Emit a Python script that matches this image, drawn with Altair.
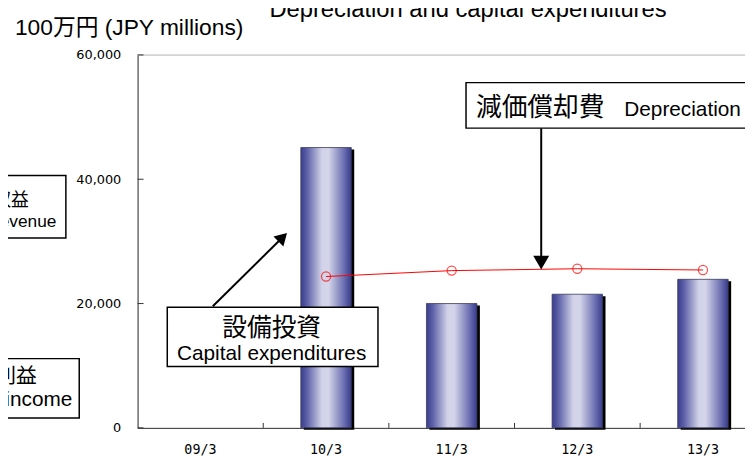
import altair as alt
import pandas as pd

# ---- data ----
periods = ["09/3", "10/3", "11/3", "12/3", "13/3"]
capex = [None, 45100, 20000, 21500, 23900]          # 設備投資 Capital expenditures
depreciation = [None, 24350, 25300, 25600, 25400]   # 減価償却費 Depreciation
y_ticks = [0, 20000, 40000, 60000]

title_text = "Depreciation and capital expenditures"
unit_text = "100万円 (JPY millions)"

df = pd.DataFrame({"period": periods, "capex": capex, "dep": depreciation})
tick_df = pd.DataFrame({"period": periods[1:]})
ytick_df = pd.DataFrame({"v": y_ticks})
one = pd.DataFrame({"k": [0]})

LAT = '"Liberation Sans", Arial, "Noto Sans CJK JP", sans-serif'
CJK = '"Noto Sans CJK JP", sans-serif'

PW, PH = 614, 377
xscale = alt.Scale(domain=periods, range=[0, 635], paddingInner=0, paddingOuter=0)
yscale = alt.Scale(domain=[0, 60000], nice=False)

x_axis = alt.Axis(title=None, labelAngle=0, ticks=False, domainColor="#333",
                  labelFont='"DejaVu Sans Mono", monospace', labelFontSize=13.5,
                  labelPadding=15, labelColor="#000", grid=False)
y_axis = alt.Axis(title=None, values=y_ticks, labelExpr="format(datum.value, ',')",
                  ticks=False, grid=False,
                  domainColor="#333", labelFont='"DejaVu Sans", sans-serif',
                  labelFontSize=13, labelPadding=17, labelColor="#000")

X = alt.X("period:N", scale=xscale, sort=periods, axis=x_axis)

base = alt.Chart(df)

top_rule = alt.Chart(one).mark_rule(color="#c4c4c4", strokeWidth=1).encode(
    y=alt.value(0), x=alt.value(0), x2=alt.value(PW))

shadow = base.mark_bar(size=51, color="#000", xOffset=3, yOffset=2).encode(
    x=X, y=alt.Y("capex:Q", scale=yscale, axis=y_axis),
)

grad = alt.LinearGradient(
    gradient="linear", x1=0, x2=1, y1=0, y2=0,
    stops=[
        alt.GradientStop(offset=0, color="#393d8e"),
        alt.GradientStop(offset=0.12, color="#5b5fa7"),
        alt.GradientStop(offset=0.42, color="#d2d3e9"),
        alt.GradientStop(offset=0.55, color="#d4d5ea"),
        alt.GradientStop(offset=0.85, color="#6d70b2"),
        alt.GradientStop(offset=1, color="#383b8b"),
    ],
)
bars = base.mark_bar(size=51, fill=grad, stroke="#3a3a5a", strokeWidth=0.8).encode(
    x=X, y=alt.Y("capex:Q", scale=yscale, axis=y_axis),
)

line = base.mark_line(color="#ff0000", strokeWidth=1).encode(
    x=X, y=alt.Y("dep:Q", scale=yscale, axis=y_axis),
)
points = base.mark_point(shape="circle", size=85, stroke="#ff0000", filled=False,
                         strokeWidth=1.2).encode(
    x=X, y=alt.Y("dep:Q", scale=yscale, axis=y_axis),
)

xticks = alt.Chart(tick_df).mark_rule(color="#333").encode(
    x=alt.X("period:N", scale=xscale, sort=periods, bandPosition=0, axis=x_axis),
    y=alt.value(PH), y2=alt.value(PH - 5))
yticks = alt.Chart(ytick_df).mark_rule(color="#333").encode(
    y=alt.Y("v:Q", scale=yscale, axis=y_axis), x=alt.value(0), x2=alt.value(6))


def box(x1, x2, y1, y2, sw=1.5):
    return alt.Chart(one).mark_rect(fill="white", stroke="black", strokeWidth=sw).encode(
        x=alt.value(x1), x2=alt.value(x2), y=alt.value(y1), y2=alt.value(y2))


def txt(s, x, y, size, font=LAT, align="left"):
    return alt.Chart(one).mark_text(text=s, font=font, fontSize=size, align=align,
                                    baseline="alphabetic", color="#000").encode(
        x=alt.value(x), y=alt.value(y))


def seg(x1, y1, x2, y2):
    return alt.Chart(one).mark_rule(color="black", strokeWidth=2).encode(
        x=alt.value(x1), y=alt.value(y1), x2=alt.value(x2), y2=alt.value(y2))


def head(x, y, shape, size, angle=0):
    return alt.Chart(one).mark_point(shape=shape, size=size, filled=True, color="black",
                                     opacity=1, angle=angle).encode(
        x=alt.value(x), y=alt.value(y))


annotations = [
    txt(title_text, 334, -38, 24, align="center"),
    txt(unit_text, -124, -20, 23),
    # neighbouring panel's boxes (cut off at the left)
    box(-160, -72.5, 122, 185),
    txt("営業収益", -110, 153, 18, font=CJK, align="right"),
    txt("Operating revenue", -82, 174, 17.5, align="right"),
    box(-160, -59, 307, 367),
    txt("営業利益", -102, 332, 21, font=CJK, align="right"),
    txt("Operating income", -66, 355, 21, align="right"),
    # capital expenditures callout
    seg(76, 254, 146.7, 184.3),
    head(146.7, 184.3, "triangle-up", 200, angle=45),
    box(30, 243, 255, 315),
    txt("設備投資", 135.5, 284, 25, font=CJK, align="center"),
    txt("Capital expenditures", 135.5, 308.7, 21, align="center"),
    # depreciation callout
    seg(408, 74, 408, 210),
    head(408, 210, "triangle-down", 260),
    box(332, 720, 28, 74),
    txt("減価償却費", 342, 62, 26, font=CJK),
    txt("Depreciation", 492, 62, 21),
]

chart = alt.layer(top_rule, shadow, bars, line, points, xticks, yticks, *annotations).properties(
    width=PW, height=PH,
    autosize=alt.AutoSizeParams(type="none"),
    padding={"left": 131, "top": 45, "right": 0, "bottom": 26},
).configure_view(stroke=None).configure(background="white")

chart.save("out.html", embed_options={"renderer": "svg", "actions": False})
